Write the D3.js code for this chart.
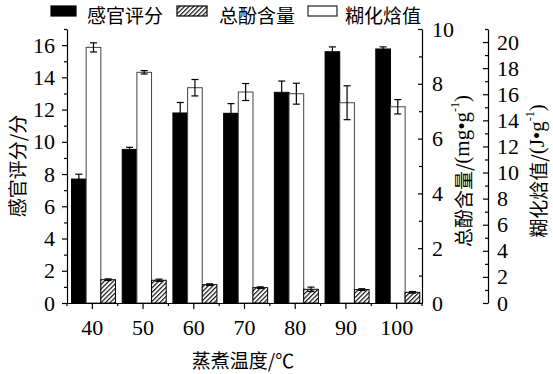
<!DOCTYPE html>
<html>
<head>
<meta charset="utf-8">
<script src="https://cdn.jsdelivr.net/npm/d3@7"></script>
<style>
body { margin: 0; background: #fff; }
</style>
</head>
<body>
<div class="canvas"></div>
<script>
// Data
const temps = ["40", "50", "60", "70", "80", "90", "100"];
const sensory = [7.69, 9.53, 11.79, 11.77, 13.07, 15.59, 15.76];
const sensory_err = [0.3, 0.13, 0.65, 0.6, 0.7, 0.3, 0.13];
const phenol = [0.85, 0.83, 0.67, 0.56, 0.50, 0.49, 0.39];
const phenol_err = [0.03, 0.04, 0.03, 0.03, 0.08, 0.03, 0.03];
const enthalpy = [19.59, 17.68, 16.5, 16.17, 16.04, 15.35, 15.04];
const enthalpy_err = [0.35, 0.13, 0.63, 0.65, 0.8, 1.3, 0.55];
const left_ticks = [0, 2, 4, 6, 8, 10, 12, 14, 16];
const right1_ticks = [0, 2, 4, 6, 8, 10];
const right2_ticks = [0, 2, 4, 6, 8, 10, 12, 14, 16, 18, 20];

// Settings
const width = 553, height = 374;
const num_font = "'Liberation Serif', 'Times New Roman', serif";
const cjk_font = "'Noto Sans CJK SC', sans-serif";
const num_size = 22;
const cjk_size = 19;
const base_y = 303, top_y = 29;

const svg = d3.select(".canvas").append("svg")
    .attr("width", width)
    .attr("height", height);

// hatch pattern
svg.append("defs").append("pattern")
    .attr("id", "hatch")
    .attr("patternUnits", "userSpaceOnUse")
    .attr("width", 3.2)
    .attr("height", 3.2)
    .attr("patternTransform", "rotate(45)")
    .call(p => {
        p.append("rect").attr("width", 3.2).attr("height", 3.2).attr("fill", "#fff");
        p.append("line").attr("x1", 0.6).attr("y1", 0).attr("x2", 0.6).attr("y2", 3.2)
            .attr("stroke", "#000").attr("stroke-width", 1.1);
    });

// scales
const xScale = d3.scaleBand().domain(temps).range([67, 422]);
const inner = d3.scaleBand().domain(["s", "e", "p"]).range([4.5, 48.5]);
const yLeft = d3.scaleLinear().domain([0, 17]).range([base_y, top_y]);
const yRight1 = d3.scaleLinear().domain([0, 10]).range([base_y, top_y]);
const yRight2 = d3.scaleLinear().domain([0, 21]).range([base_y, top_y]);

const series = [
    {key: "s", values: sensory, err: sensory_err, y: yLeft, fill: "#000", stroke: "#000"},
    {key: "e", values: enthalpy, err: enthalpy_err, y: yRight2, fill: "#fff", stroke: "#444"},
    {key: "p", values: phenol, err: phenol_err, y: yRight1, fill: "url(#hatch)", stroke: "#000"}
];

// bars
series.forEach(s => {
    const rows = temps.map((t, i) => ({t: t, v: s.values[i], e: s.err[i]}));
    const g = svg.append("g");
    g.selectAll("rect")
        .data(rows)
        .enter()
        .append("rect")
        .attr("x", d => xScale(d.t) + inner(s.key))
        .attr("y", d => s.y(d.v))
        .attr("width", inner.bandwidth())
        .attr("height", d => base_y - s.y(d.v))
        .attr("fill", s.fill)
        .attr("stroke", s.stroke)
        .attr("stroke-width", 1);

    // error bars
    const cx = d => xScale(d.t) + inner(s.key) + inner.bandwidth() / 2;
    const eg = g.selectAll("g.err")
        .data(rows)
        .enter()
        .append("g")
        .attr("class", "err")
        .attr("stroke", "#000")
        .attr("stroke-width", 1.2);
    eg.append("line")
        .attr("x1", cx).attr("x2", cx)
        .attr("y1", d => s.y(d.v - d.e)).attr("y2", d => s.y(d.v + d.e));
    eg.append("line")
        .attr("x1", d => cx(d) - 3.5).attr("x2", d => cx(d) + 3.5)
        .attr("y1", d => s.y(d.v + d.e)).attr("y2", d => s.y(d.v + d.e));
    eg.append("line")
        .attr("x1", d => cx(d) - 3.5).attr("x2", d => cx(d) + 3.5)
        .attr("y1", d => s.y(d.v - d.e)).attr("y2", d => s.y(d.v - d.e));
});

function style_axis(g) {
    g.selectAll("path, line").attr("stroke", "#000").attr("stroke-width", 1.2);
    g.selectAll("text").attr("font-family", num_font).attr("font-size", num_size).attr("fill", "#000");
}

function minor_values(max) {
    return d3.range(1, max + 1, 2);
}

// left axis
svg.append("g")
    .attr("transform", "translate(67,0)")
    .call(d3.axisLeft(yLeft).tickValues(left_ticks).tickSizeInner(5).tickSizeOuter(0).tickPadding(7))
    .call(style_axis);
svg.append("g")
    .attr("transform", "translate(67,0)")
    .call(d3.axisLeft(yLeft).tickValues(minor_values(17)).tickSize(3).tickFormat(""))
    .call(style_axis)
    .select(".domain").remove();

// right axis 1 (总酚)
svg.append("g")
    .attr("transform", "translate(422,0)")
    .call(d3.axisRight(yRight1).tickValues(right1_ticks).tickSizeInner(-4).tickSizeOuter(0).tickPadding(10))
    .call(style_axis);
svg.append("g")
    .attr("transform", "translate(422,0)")
    .call(d3.axisRight(yRight1).tickValues(minor_values(10)).tickSize(-3).tickFormat(""))
    .call(style_axis)
    .select(".domain").remove();

// right axis 2 (糊化焓值)
svg.append("g")
    .attr("transform", "translate(488,0)")
    .call(d3.axisRight(yRight2).tickValues(right2_ticks).tickSizeInner(-5).tickSizeOuter(0).tickPadding(9))
    .call(style_axis);
svg.append("g")
    .attr("transform", "translate(488,0)")
    .call(d3.axisRight(yRight2).tickValues(minor_values(21)).tickSize(-3).tickFormat(""))
    .call(style_axis)
    .select(".domain").remove();

// x axis
svg.append("g")
    .attr("transform", "translate(0," + base_y + ")")
    .call(d3.axisBottom(xScale).tickSizeInner(6).tickSizeOuter(0).tickPadding(10))
    .call(style_axis);
// minor ticks at band edges
svg.append("g")
    .selectAll("line")
    .data(temps.concat(["end"]))
    .enter()
    .append("line")
    .attr("x1", (d, i) => xScale.range()[0] + i * xScale.step())
    .attr("x2", (d, i) => xScale.range()[0] + i * xScale.step())
    .attr("y1", base_y)
    .attr("y2", base_y + 3)
    .attr("stroke", "#000")
    .attr("stroke-width", 1.2);

// axis titles
svg.append("text")
    .attr("transform", "translate(16,166) rotate(-90)")
    .attr("text-anchor", "middle")
    .attr("dominant-baseline", "central")
    .attr("font-family", cjk_font)
    .attr("font-size", cjk_size)
    .text("感官评分/分");

svg.append("text")
    .attr("x", 243)
    .attr("y", 359)
    .attr("text-anchor", "middle")
    .attr("dominant-baseline", "central")
    .attr("font-family", cjk_font)
    .attr("font-size", cjk_size)
    .text("蒸煮温度/℃");

function unit_title(x, label, unit) {
    const t = svg.append("text")
        .attr("transform", "translate(" + x + ",171) rotate(-90)")
        .attr("text-anchor", "middle")
        .attr("dominant-baseline", "central")
        .attr("font-size", cjk_size);
    t.append("tspan").attr("font-family", cjk_font).text(label + "/");
    t.append("tspan").attr("font-family", num_font).attr("font-size", 21).text("(" + unit + "•g");
    t.append("tspan").attr("font-family", num_font).attr("font-size", 12)
        .attr("baseline-shift", "super").text("-1");
    t.append("tspan").attr("font-family", num_font).attr("font-size", 21).text(")");
}
unit_title(462, "总酚含量", "mg");
unit_title(537, "糊化焓值", "J");

// legend
const legend_items = [
    {name: "感官评分", x: 51, w: 25, fill: "#000", stroke: "#000", tx: 87},
    {name: "总酚含量", x: 177, w: 30, fill: "url(#hatch)", stroke: "#000", tx: 219},
    {name: "糊化焓值", x: 308, w: 29, fill: "#fff", stroke: "#222", tx: 345}
];
const lg = svg.append("g")
    .selectAll("g")
    .data(legend_items)
    .enter()
    .append("g");
lg.append("rect")
    .attr("x", d => d.x)
    .attr("y", 6)
    .attr("width", d => d.w)
    .attr("height", 10)
    .attr("fill", d => d.fill)
    .attr("stroke", d => d.stroke)
    .attr("stroke-width", 1.2);
lg.append("text")
    .attr("x", d => d.tx)
    .attr("y", 14)
    .attr("dominant-baseline", "central")
    .attr("font-family", cjk_font)
    .attr("font-size", cjk_size)
    .text(d => d.name);
</script>
</body>
</html>
